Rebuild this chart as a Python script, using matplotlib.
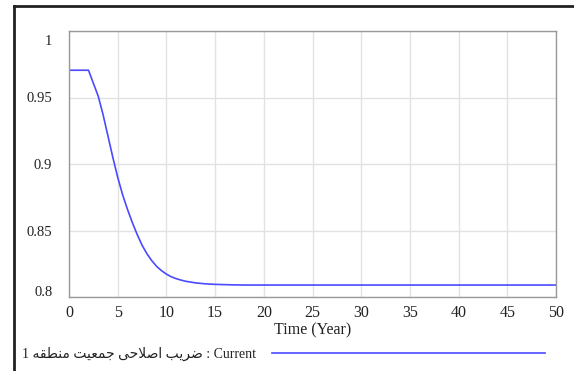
import matplotlib
matplotlib.use('Agg')
import matplotlib.pyplot as plt
import matplotlib.transforms as mtrans
from matplotlib.lines import Line2D

plt.rcParams['font.family'] = ['Liberation Serif', 'DejaVu Sans']

# values (half-year steps where the curve bends)
years = [0, 1, 2, 3, 3.5, 4, 4.5, 5, 5.5, 6, 6.5, 7, 7.5, 8, 8.5, 9, 9.5, 10, 10.5, 11,
         11.5, 12, 13, 14, 15, 16, 17, 18, 20, 25, 30, 35, 40, 45, 50]
current = [0.9705, 0.9705, 0.9705, 0.951, 0.937, 0.921, 0.905, 0.890, 0.877, 0.866,
           0.856, 0.847, 0.839, 0.8325, 0.8273, 0.823, 0.8198, 0.8172, 0.8152, 0.8138,
           0.8127, 0.8118, 0.8106, 0.8099, 0.8095, 0.8093, 0.8091, 0.8090, 0.8090, 0.8090,
           0.8090, 0.8090, 0.8090, 0.8090, 0.8090]
xticks = [0, 5, 10, 15, 20, 25, 30, 35, 40, 45, 50]
yticks = [0.8, 0.85, 0.9, 0.95, 1.0]
ylabels = ['0.8', '0.85', '0.9', '0.95', '1']

# "Current : ضریب اصلاحی جمعیت منطقه 1" written in shaped, visual order
# (matplotlib has no bidi / arabic shaping)
w1 = '\uFEBF\uFEAE\uFEF3\uFE90'          # ضریب
w2 = '\uFE8D\uFEBB\uFEFC\uFEA3\uFEF0'    # اصلاحی
w3 = '\uFE9F\uFEE4\uFECC\uFEF4\uFE96'    # جمعیت
w4 = '\uFEE3\uFEE8\uFEC4\uFED8\uFEEA'    # منطقه
legend_text = '1 ' + w4[::-1] + ' ' + w3[::-1] + ' ' + w2[::-1] + ' ' + w1[::-1] + ' : Current'

fig = plt.figure(figsize=(5.74, 3.71), dpi=100)
ax = fig.add_axes([69/574, 1-297/371, (556-69)/574, (297-31)/371])

blue = '#4a4aff'
ax.plot(years, current, color=blue, linewidth=1.2)

ax.set_xlim(0, 50)
ax.set_ylim(0.8, 1.0)
ax.set_xticks(xticks)
ax.set_yticks(yticks)
ax.set_yticklabels(ylabels)
ax.grid(True, color='#e2e2e2', linewidth=1.0)
ax.set_axisbelow(True)
for s in ax.spines.values():
    s.set_color('#999999')
    s.set_linewidth(1.0)
ax.tick_params(length=0, colors='#222222')
ax.tick_params(axis='x', labelsize=11.5, pad=6)
ax.tick_params(axis='y', labelsize=10.5, pad=12)

# end labels pushed inside, like the original
labs = ax.get_yticklabels()
labs[-1].set_transform(labs[-1].get_transform() + mtrans.ScaledTranslation(0, -9/100, fig.dpi_scale_trans))
labs[0].set_transform(labs[0].get_transform() + mtrans.ScaledTranslation(0, 6/100, fig.dpi_scale_trans))

ax.set_xlabel('Time (Year)', fontsize=11.5, color='#222222', labelpad=1)

fig.text(22/574, 1-354/371, legend_text, fontsize=10, color='#222222', va='center', ha='left')
fig.add_artist(Line2D([272/574, 545/574], [1-353/371, 1-353/371], color=blue, linewidth=1.2))

# outer frame (top and left)
fig.add_artist(Line2D([14/574, 1.0], [1-6/371, 1-6/371], color='#222222', linewidth=2))
fig.add_artist(Line2D([14/574, 14/574], [0, 1-6/371], color='#222222', linewidth=2))

fig.savefig('out.png', dpi=100)
